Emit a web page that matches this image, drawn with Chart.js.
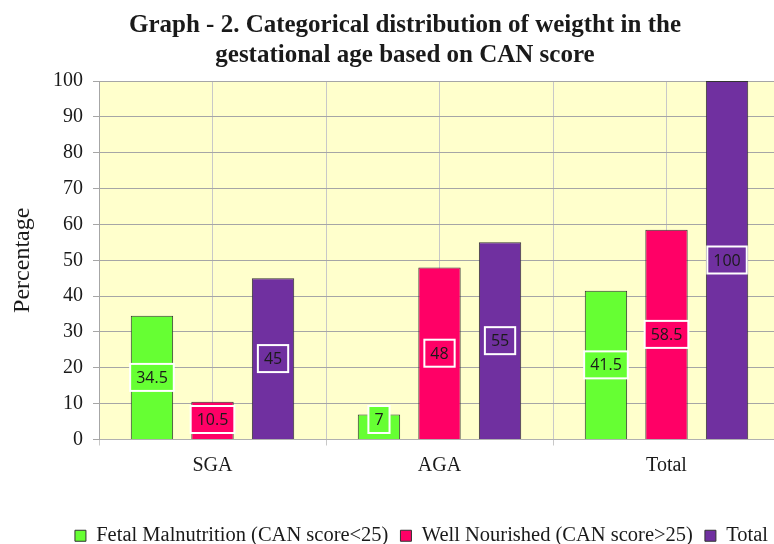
<!DOCTYPE html>
<html>
<head>
<meta charset="utf-8">
<script src="https://cdn.jsdelivr.net/npm/chart.js@4"></script>
<style>
  html, body { margin: 0; padding: 0; background: #fff; overflow: hidden; }
  #wrap { position: relative; width: 852px; height: 556px; }
  #titulo {
    position: absolute; left: 0; top: 9px; width: 810px;
    text-align: center; font: bold 25px/30px "Liberation Serif", "Times New Roman", serif;
    color: #1a1a1a;
  }
</style>
</head>
<body>
<div id="wrap">
  <canvas id="grafico" width="852" height="556"></canvas>
  <div id="titulo">Graph - 2. Categorical distribution of weigtht in the<br>gestational age based on CAN score</div>
</div>
<script>
// dados
const categorias = ['SGA', 'AGA', 'Total'];
const nomesSeries = ['Fetal Malnutrition (CAN score<25)', 'Well Nourished (CAN score>25)', 'Total'];
const desnutricao = [34.5, 7, 41.5];
const bemNutrido = [10.5, 48, 58.5];
const totais = [45, 55, 100];
const eixoY = { min: 0, max: 100, passo: 10 };

const CORES = ['#66FF33', '#FF0066', '#7030A0'];
const SERIF = '"Liberation Serif", "Times New Roman", serif';

// fundo amarelo da área de plotagem
const fundoArea = {
  id: 'fundoArea',
  beforeDraw(chart) {
    const { ctx, chartArea: a } = chart;
    ctx.save();
    ctx.fillStyle = '#FFFFCC';
    ctx.fillRect(a.left, a.top, a.right - a.left, a.bottom - a.top);
    ctx.restore();
  }
};

// rótulos de valor em caixas no meio das barras
const rotulos = {
  id: 'rotulos',
  afterDatasetsDraw(chart) {
    const ctx = chart.ctx;
    ctx.save();
    ctx.font = '16px "Open Sans", sans-serif';
    ctx.textAlign = 'center';
    ctx.textBaseline = 'middle';
    chart.data.datasets.forEach((ds, i) => {
      chart.getDatasetMeta(i).data.forEach((bar, j) => {
        const txt = String(ds.data[j]);
        const w = ctx.measureText(txt).width + 12;
        const h = 27;
        let cy = (bar.y + bar.base) / 2;
        if (cy + h / 2 > bar.base - 6) cy = bar.base - 6 - h / 2;
        ctx.fillStyle = ds.backgroundColor;
        ctx.fillRect(bar.x - w / 2, cy - h / 2, w, h);
        ctx.strokeStyle = '#FFFFFF';
        ctx.lineWidth = 2;
        ctx.strokeRect(bar.x - w / 2, cy - h / 2, w, h);
        ctx.fillStyle = '#1a1a1a';
        ctx.fillText(txt, bar.x, cy + 1);
      });
    });
    ctx.restore();
  }
};

const series = [desnutricao, bemNutrido, totais];

new Chart(document.getElementById('grafico'), {
  type: 'bar',
  data: {
    labels: categorias,
    datasets: series.map((valores, i) => ({
      label: nomesSeries[i],
      data: valores,
      backgroundColor: CORES[i],
      borderColor: '#333333',
      borderWidth: 1,
      categoryPercentage: 0.8,
      barPercentage: 0.7
    }))
  },
  options: {
    responsive: false,
    animation: false,
    layout: { padding: { top: 81, right: 72, left: 0, bottom: 0 } },
    plugins: {
      title: { display: false },
      tooltip: { enabled: false },
      legend: {
        position: 'bottom',
        align: 'end',
        labels: {
          boxWidth: 11, boxHeight: 11, padding: 12,
          color: '#1a1a1a',
          font: { family: SERIF, size: 20.5 }
        }
      }
    },
    scales: {
      x: {
        offset: true,
        grid: { offset: true, color: '#C8C8C8', drawTicks: true, tickLength: 6 },
        border: { color: '#B0B0B0' },
        ticks: { padding: 8, color: '#1a1a1a', font: { family: SERIF, size: 20 } },
        afterFit(s) { s.height = 74; }
      },
      x2: {
        type: 'category',
        labels: categorias,
        position: 'top',
        offset: true,
        grid: { offset: false, color: '#C8C8C8', drawTicks: false },
        border: { display: false },
        ticks: { display: false },
        afterFit(s) { s.height = 0; }
      },
      y: {
        min: eixoY.min, max: eixoY.max,
        ticks: { stepSize: eixoY.passo, padding: 10, color: '#1a1a1a', font: { family: SERIF, size: 20 } },
        grid: { color: '#A6A6A6', tickLength: 6 },
        border: { color: '#A6A6A6' },
        title: {
          display: true, text: 'Percentage', color: '#1a1a1a',
          font: { family: SERIF, size: 24 }, padding: { top: 8, bottom: 0 }
        },
        afterFit(s) { s.width = 99; }
      }
    }
  },
  plugins: [fundoArea, rotulos]
});
</script>
</body>
</html>
